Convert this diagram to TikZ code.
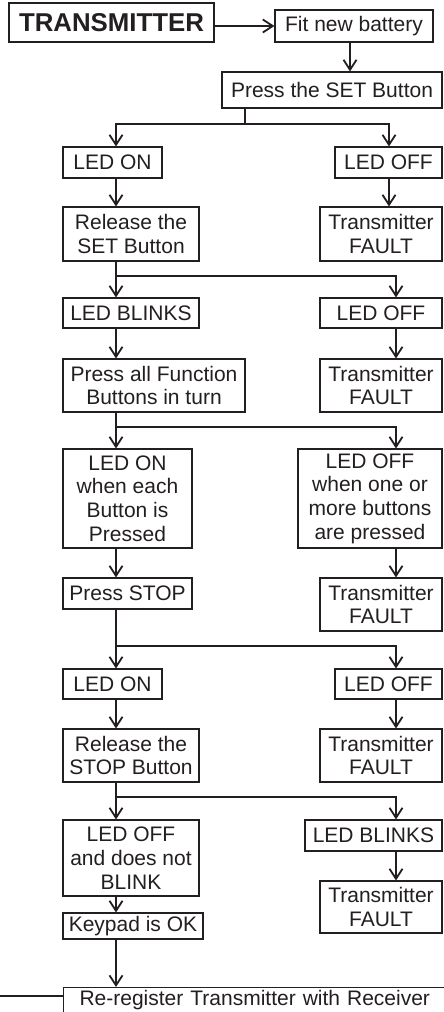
\documentclass[tikz,border=0pt]{standalone}
\usepackage{fontspec}
\setmainfont{Liberation Sans}
\usetikzlibrary{arrows.meta}
\definecolor{ink}{RGB}{35,31,32}
\newcommand\mybox[6]{\node[box, minimum width={#4-#2}, minimum height={#5-#3}] (#1) at ({(#2+#4)/2},{(#3+#5)/2}) {#6};}
\begin{document}
\begin{tikzpicture}[x=1pt,y=-1pt,
  box/.style={draw=ink, line width=1.1pt, inner sep=0pt, align=center, text=ink,
    font=\fontsize{21}{23.7}\selectfont},
  conn/.style={draw=ink, line width=1.8pt},
  arr/.style={conn, -{Straight Barb[length=10pt,width=13pt,line width=1.8pt]}}]
\useasboundingbox (0,0) rectangle (444,1012);
\fill[white] (0,0) rectangle (444,1012);
% columns and junctions
\coordinate (L) at (116,0);
\coordinate (R1) at (389,0);
\coordinate (R) at (396,0);
\coordinate (F) at (350,0);
\coordinate (j1) at (245,124);
\coordinate (j2) at (116,276);
\coordinate (j3) at (116,427);
\coordinate (j4) at (116,646);
\coordinate (j5) at (116,797);
\coordinate (lft) at (0,996);
% boxes
\node[box, minimum width=205, minimum height=39, font=\fontsize{25.8}{28}\selectfont\bfseries] (tx) at (111.5,22.5) {TRANSMITTER};
\mybox{fit}{275}{10}{433}{42}{Fit new battery}
\mybox{set}{222}{72}{442}{108}{Press the SET Button}
\mybox{on1}{63}{147}{162}{178}{LED ON}
\mybox{off1}{335}{147}{442}{178}{LED OFF}
\mybox{rel1}{63}{207}{199}{261}{Release the\\SET Button}
\mybox{tf1}{320}{207}{442}{261}{Transmitter\\FAULT}
\mybox{bl1}{63}{298}{199}{328}{LED BLINKS}
\mybox{off2}{320}{298}{442}{328}{LED OFF}
\mybox{paf}{63}{359}{245}{412}{Press all Function\\Buttons in turn}
\mybox{tf2}{320}{359}{442}{412}{Transmitter\\FAULT}
\mybox{on3}{63}{449}{192}{548}{LED ON\\when each\\Button is\\Pressed}
\mybox{off3}{298}{449}{442}{548}{LED OFF\\when one or\\more buttons\\are pressed}
\mybox{stop}{63}{578}{192}{609}{Press STOP}
\mybox{tf3}{320}{578}{442}{631}{Transmitter\\FAULT}
\mybox{on4}{63}{669}{162}{699}{LED ON}
\mybox{off4}{335}{669}{442}{699}{LED OFF}
\mybox{rel2}{63}{729}{199}{782}{Release the\\STOP Button}
\mybox{tf4}{320}{729}{442}{782}{Transmitter\\FAULT}
\mybox{off5}{63}{820}{199}{896}{LED OFF\\and does not\\BLINK}
\mybox{bl2}{305}{820}{442}{851}{LED BLINKS}
\mybox{tf5}{320}{881}{442}{933}{Transmitter\\FAULT}
\mybox{ok}{63}{913}{203}{939}{Keypad is OK}
\node[box, minimum width=393, minimum height=26, anchor=north west, text width=393, align=left] (rr) at (63,987) {\hspace{16pt}Re-register Transmitter with Receiver};
% connectors
\draw[arr] (fit.west -| tx.east) -- (fit.west);
\draw[arr] (fit.south -| F) -- (set.north -| F);
% branch 1
\draw[conn] (set.south -| j1) -- (j1);
\draw[arr] (j1) -| (on1.north -| L);
\draw[arr] (j1) -| (off1.north -| R1);
\draw[arr] (on1.south -| L) -- (rel1.north -| L);
\draw[arr] (off1.south -| R1) -- (tf1.north -| R1);
% branch 2
\draw[conn] (rel1.south -| j2) -- (j2);
\draw[arr] (j2) -- (bl1.north -| L);
\draw[arr] (j2) -| (off2.north -| R);
\draw[arr] (bl1.south -| L) -- (paf.north -| L);
\draw[arr] (off2.south -| R) -- (tf2.north -| R);
% branch 3
\draw[conn] (paf.south -| j3) -- (j3);
\draw[arr] (j3) -- (on3.north -| L);
\draw[arr] (j3) -| (off3.north -| R);
\draw[arr] (on3.south -| L) -- (stop.north -| L);
\draw[arr] (off3.south -| R) -- (tf3.north -| R);
% branch 4
\draw[conn] (stop.south -| j4) -- (j4);
\draw[arr] (j4) -- (on4.north -| L);
\draw[arr] (j4) -| (off4.north -| R);
\draw[arr] (on4.south -| L) -- (rel2.north -| L);
\draw[arr] (off4.south -| R) -- (tf4.north -| R);
% branch 5
\draw[conn] (rel2.south -| j5) -- (j5);
\draw[arr] (j5) -- (off5.north -| L);
\draw[arr] (j5) -| (bl2.north -| R);
\draw[arr] (bl2.south -| R) -- (tf5.north -| R);
\draw[arr] (off5.south -| L) -- (ok.north -| L);
\draw[arr] (ok.south -| L) -- (rr.north -| L);
\draw[conn] (lft) -- (lft -| rr.west);
\end{tikzpicture}
\end{document}
